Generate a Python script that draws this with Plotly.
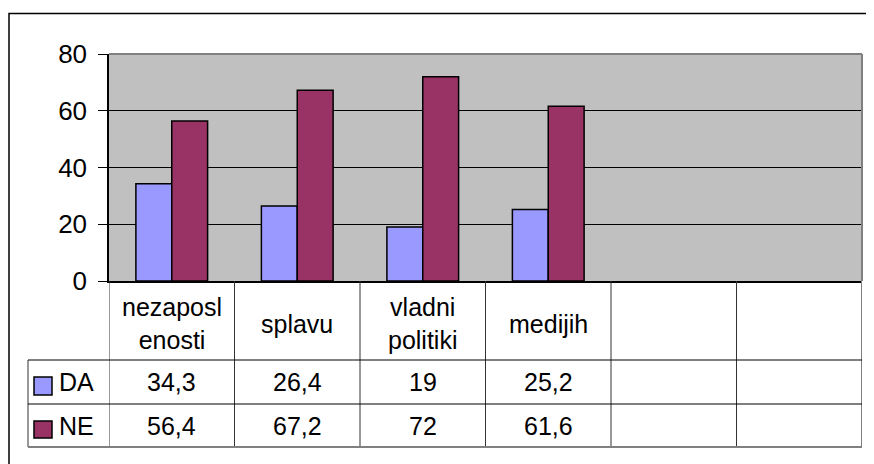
import plotly.graph_objects as go

categories = ["nezaposl<br>enosti", "splavu", "vladni<br>politiki", "medijih", "", ""]
series_names = ["DA", "NE"]
da_values = [34.3, 26.4, 19, 25.2]
ne_values = [56.4, 67.2, 72, 61.6]
y_ticks = [0, 20, 40, 60, 80]

colors = {"DA": "#9999FF", "NE": "#993366"}
FONT = "Arial, Liberation Sans, sans-serif"
FS = 25

OFF = 8  # browser body margin
W, H = 874 - OFF, 464 - OFF
L, T = 109 - OFF, 54 - OFF
pw, ph = 753, 227
R = W - L - pw
B = H - T - ph
Y0 = T + ph  # figure px of y=0 line


def px_x(px):
    return (px - OFF - L) / pw


def px_y(py):
    return (Y0 - (py - OFF)) / ph


def fmt(v):
    return f"{v:g}".replace(".", ",")


n = len(categories)
xs = list(range(n))

fig = go.Figure()
for name, vals in (("DA", da_values), ("NE", ne_values)):
    fig.add_trace(go.Bar(
        x=xs[:len(vals)], y=vals, name=name,
        marker=dict(color=colors[name], line=dict(color="black", width=1.5)),
    ))

shapes = []
ann = []

# plot area top/right border
shapes.append(dict(type="line", xref="paper", yref="paper", x0=0, x1=1, y0=1, y1=1,
                   line=dict(color="#808080", width=2)))
shapes.append(dict(type="line", xref="paper", yref="paper", x0=1, x1=1, y0=0, y1=1,
                   line=dict(color="#808080", width=2)))

# table geometry (reference pixel rows)
row_top = 281
row_hdr_bottom = 360
row_da_bottom = 404
row_ne_bottom = 447
leg_left = 28

y_hdr_b = px_y(row_hdr_bottom)
y_da_b = px_y(row_da_bottom)
y_ne_b = px_y(row_ne_bottom)

# vertical lines at category boundaries
for k in range(n + 1):
    xb = -0.5 + k
    col = "#808080" if k == n else "#333333"
    wid = 2 if k == n else 1
    shapes.append(dict(type="line", xref="x", yref="paper", x0=xb, x1=xb, y0=0, y1=y_ne_b,
                       line=dict(color=col, width=wid)))
# legend column left line
shapes.append(dict(type="line", xref="paper", yref="paper", x0=px_x(leg_left), x1=px_x(leg_left),
                   y0=y_hdr_b, y1=y_ne_b, line=dict(color="#333333", width=1)))
# horizontal lines
for yy, col, wid in ((y_hdr_b, "black", 1), (y_da_b, "black", 1), (y_ne_b, "#808080", 2)):
    shapes.append(dict(type="line", xref="paper", yref="paper", x0=px_x(leg_left), x1=1,
                       y0=yy, y1=yy, line=dict(color=col, width=wid)))

# outer chart border
shapes.append(dict(type="rect", xref="paper", yref="paper", x0=px_x(9), x1=1.1,
                   y0=-1.0, y1=px_y(13.5), line=dict(color="black", width=1.5)))

# header labels
for i, c in enumerate(categories):
    if c:
        ann.append(dict(xref="x", yref="paper", x=i, y=px_y((row_top + row_hdr_bottom) / 2 + 3),
                        text=c, showarrow=False, xanchor="center", yanchor="middle",
                        font=dict(family=FONT, size=FS, color="black")))

# data rows
rows = (("DA", da_values, (row_hdr_bottom + row_da_bottom) / 2, (377, 395)),
        ("NE", ne_values, (row_da_bottom + row_ne_bottom) / 2, (421, 438)))
for name, vals, yc, (sq0, sq1) in rows:
    shapes.append(dict(type="rect", xref="paper", yref="paper", x0=px_x(34), x1=px_x(52),
                       y0=px_y(sq1), y1=px_y(sq0), fillcolor=colors[name],
                       line=dict(color="black", width=1.5)))
    ann.append(dict(xref="paper", yref="paper", x=px_x(57), y=px_y(yc), text=name,
                    showarrow=False, xanchor="left", yanchor="middle",
                    font=dict(family=FONT, size=FS, color="black")))
    for i, v in enumerate(vals):
        ann.append(dict(xref="x", yref="paper", x=i, y=px_y(yc), text=fmt(v),
                        showarrow=False, xanchor="center", yanchor="middle",
                        font=dict(family=FONT, size=FS, color="black")))

fig.update_layout(
    width=W, height=H,
    margin=dict(l=L, r=R, t=T, b=B, pad=0),
    paper_bgcolor="white", plot_bgcolor="#C0C0C0",
    barmode="group", bargap=1.5 / 3.5, bargroupgap=0,
    showlegend=False,
    shapes=shapes, annotations=ann,
    font=dict(family=FONT, size=FS, color="black"),
)
fig.update_xaxes(range=[-0.5, n - 0.5], showticklabels=False, showgrid=False, zeroline=False,
                 showline=True, linecolor="black", linewidth=1.5, ticks="")
fig.update_yaxes(range=[0, 80], tickvals=y_ticks, showgrid=True, gridcolor="black", gridwidth=1,
                 zeroline=False, showline=True, linecolor="black", linewidth=1.5,
                 ticks="outside", ticklen=9, tickcolor="black", tickwidth=1,
                 tickfont=dict(family=FONT, size=26, color="black"), ticklabelstandoff=6)

fig.write_html("out.html")
